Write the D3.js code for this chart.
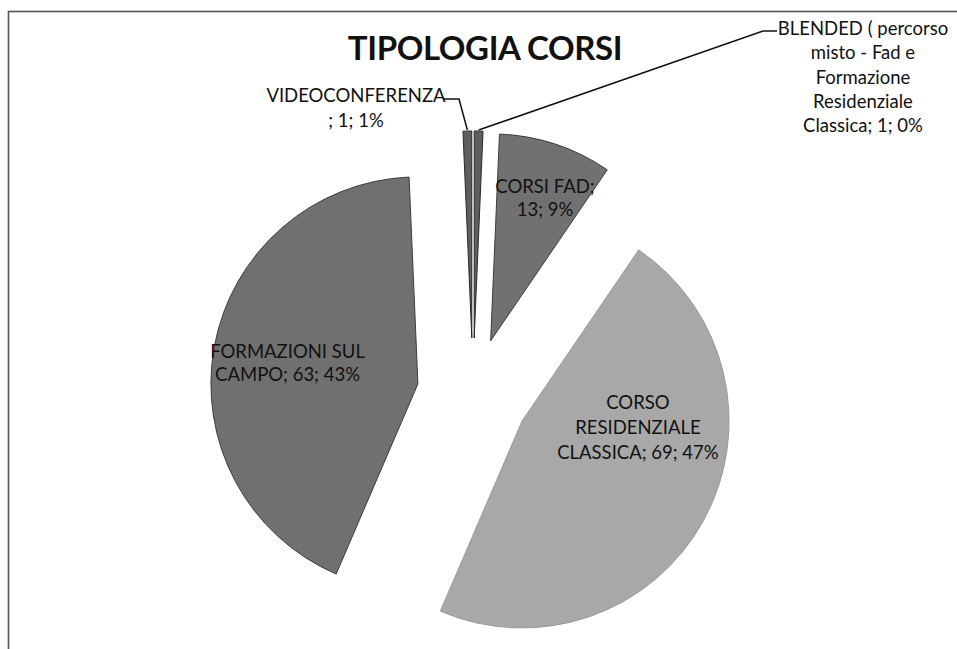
<!DOCTYPE html>
<html>
<head>
<meta charset="utf-8">
<script src="https://cdn.jsdelivr.net/npm/d3@7"></script>
<style>
  body { margin: 0; background: #fff; }
  text { font-family: Lato, "Open Sans", sans-serif; fill: #111; }
</style>
</head>
<body>
<div id="chart"></div>
<script>
// Data (slice order as in the sheet, clockwise from 12 o'clock)
const categories = [
    "BLENDED ( percorso misto - Fad e Formazione Residenziale Classica",
    "CORSI FAD",
    "CORSO RESIDENZIALE CLASSICA",
    "FORMAZIONI SUL CAMPO",
    "VIDEOCONFERENZA"
];
const values = [1, 13, 69, 63, 1];
const percents = ["0%", "9%", "47%", "43%", "1%"];

// How each label wraps (text only)
const labelLines = [
    ["BLENDED ( percorso", "misto - Fad e", "Formazione", "Residenziale", "Classica; 1; 0%"],
    ["CORSI FAD;", "13; 9%"],
    ["CORSO", "RESIDENZIALE", "CLASSICA; 69; 47%"],
    ["FORMAZIONI SUL", "CAMPO; 63; 43%"],
    ["VIDEOCONFERENZA", "; 1; 1%"]
];

const width = 957, height = 649;
const cx = 473, cy = 394, radius = 207, explode = 56;
const fontSize = 18.5;

const fills = ["#5e5e5e", "#717171", "#a8a8a8", "#707070", "#5e5e5e"];
const strokes = ["#2a2a2a", "#3c3c3c", "#9a9a9a", "#3c3c3c", "#2a2a2a"];

// label placement
// inside: polar (angle deg, distance) from the exploded slice tip
// outside: text anchor relative to pie centre, leader elbow + end relative to pie centre
const labelLayout = [
    { outside: true, tx: 390, ty: -359, lineH: 24.3, elbow: [290, -363], end: [304, -363] },
    { angle: 20.8, dist: 153, lineH: 23 },
    { angle: 93, dist: 116, lineH: 25 },
    { angle: 279, dist: 132, lineH: 23 },
    { outside: true, tx: -117, ty: -292, lineH: 25, elbow: [-14, -295], end: [-30, -295] }
];

const svg = d3.select("#chart")
    .append("svg")
    .attr("width", width)
    .attr("height", height);

// frame (only top and left edges show inside the picture)
svg.append("rect")
    .attr("x", 8.5).attr("y", 11.5)
    .attr("width", width + 20).attr("height", height + 20)
    .attr("fill", "none")
    .attr("stroke", "#555")
    .attr("stroke-width", 1.6);

svg.append("text")
    .attr("x", 485).attr("y", 60)
    .attr("text-anchor", "middle")
    .attr("font-size", 33)
    .attr("font-weight", 700)
    .attr("letter-spacing", -0.4)
    .text("TIPOLOGIA CORSI");

const pie = d3.pie().sort(null).value(d => d)(values);
const arc = d3.arc().innerRadius(0).outerRadius(radius);

const dirOf = a => [Math.sin(a), -Math.cos(a)];
const midOf = d => (d.startAngle + d.endAngle) / 2;
const offsetOf = d => dirOf(midOf(d)).map(v => v * explode);

const g = svg.append("g").attr("transform", `translate(${cx},${cy})`);

// slices
g.selectAll("path.slice")
    .data(pie)
    .join("path")
    .attr("class", "slice")
    .attr("transform", d => `translate(${offsetOf(d)})`)
    .attr("d", arc)
    .attr("fill", (d, i) => fills[i])
    .attr("stroke", (d, i) => strokes[i])
    .attr("stroke-width", 1);

// leader lines for the small slices
const outside = pie.filter((d, i) => labelLayout[i].outside);
g.selectAll("polyline.leader")
    .data(outside)
    .join("polyline")
    .attr("class", "leader")
    .attr("points", d => {
        const lay = labelLayout[d.index];
        const [ox, oy] = offsetOf(d);
        const [ux, uy] = dirOf(midOf(d));
        const start = [ox + ux * (radius + 1), oy + uy * (radius + 1)];
        return [start, lay.elbow, lay.end].map(p => p.join(",")).join(" ");
    })
    .attr("fill", "none")
    .attr("stroke", "#111")
    .attr("stroke-width", 1.5);

// labels
const labels = g.selectAll("text.label")
    .data(pie)
    .join("text")
    .attr("class", "label")
    .attr("text-anchor", "middle")
    .attr("font-size", fontSize);

labels.each(function (d, i) {
    const lay = labelLayout[i];
    const lines = labelLines[i];
    const n = lines.length;
    let x, y0;
    if (lay.outside) {
        x = lay.tx;
        y0 = lay.ty;
    } else {
        const [ox, oy] = offsetOf(d);
        const [ax, ay] = dirOf(lay.angle * Math.PI / 180);
        x = ox + ax * lay.dist;
        y0 = oy + ay * lay.dist - (n - 1) / 2 * lay.lineH + fontSize * 0.36;
    }
    d3.select(this).selectAll("tspan")
        .data(lines)
        .join("tspan")
        .attr("x", x)
        .attr("y", (s, k) => y0 + k * lay.lineH)
        .text(s => s);
});
</script>
</body>
</html>
